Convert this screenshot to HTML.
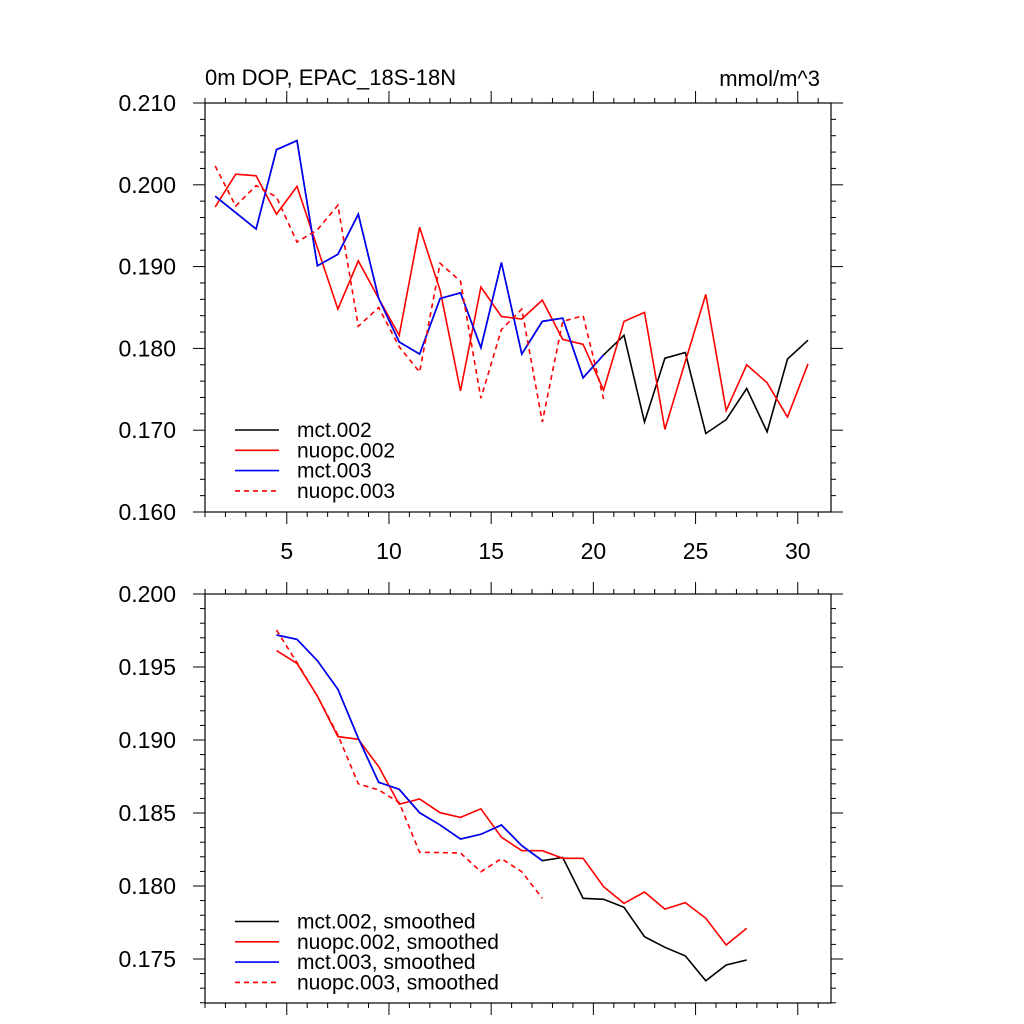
<!DOCTYPE html>
<html><head><meta charset="utf-8"><style>
html,body{margin:0;padding:0;background:#fff;}
svg{display:block;font-family:"Liberation Sans",Arial,sans-serif;}
</style></head><body>
<svg id="chart" width="1024" height="1024" viewBox="0 0 1024 1024"></svg>
<script>
// ---- data ----
const xStart = 1.5;
const mct002 = [0.1986,0.1966,0.1946,0.2043,0.2054,0.1901,0.1915,0.1964,0.1861,0.1808,0.1793,0.1861,0.1868,0.1801,0.1905,0.1793,0.1833,0.1837,0.1764,0.1792,0.1816,0.1710,0.1788,0.1795,0.1696,0.1713,0.1751,0.1698,0.1787,0.1810];
const nuopc002 = [0.1973,0.2013,0.2011,0.1964,0.1998,0.1923,0.1848,0.1907,0.1861,0.1816,0.1948,0.1871,0.1748,0.1875,0.1839,0.1836,0.1859,0.1811,0.1805,0.1749,0.1833,0.1844,0.1701,0.1784,0.1866,0.1724,0.1780,0.1758,0.1716,0.1781];
const mct003 = [0.1986,0.1966,0.1946,0.2043,0.2054,0.1901,0.1915,0.1964,0.1861,0.1808,0.1793,0.1861,0.1868,0.1801,0.1905,0.1793,0.1833,0.1837,0.1764,0.1792];
const nuopc003 = [0.2023,0.1974,0.1999,0.1985,0.1930,0.1945,0.1975,0.1827,0.1850,0.1802,0.1771,0.1904,0.1882,0.1739,0.1823,0.1848,0.1710,0.1833,0.1840,0.1738];
const smStart = 4.5;
const mct002s = [0.19719,0.19690,0.19543,0.19347,0.19012,0.18710,0.18662,0.18502,0.18418,0.18322,0.18354,0.18418,0.18276,0.18173,0.18195,0.17916,0.17909,0.17854,0.17653,0.17580,0.17521,0.17351,0.17459,0.17493];
const nuopc002s = [0.19612,0.19525,0.19301,0.19023,0.19005,0.18817,0.18560,0.18596,0.18502,0.18470,0.18529,0.18334,0.18242,0.18242,0.18190,0.18190,0.17995,0.17881,0.17959,0.17842,0.17886,0.17779,0.17596,0.17710];
const mct003s = [0.19719,0.19690,0.19543,0.19347,0.19012,0.18710,0.18662,0.18502,0.18418,0.18322,0.18354,0.18418,0.18276,0.18173];
const nuopc003s = [0.19753,0.19530,0.19300,0.19034,0.18699,0.18658,0.18571,0.18231,0.18229,0.18226,0.18098,0.18187,0.18098,0.17916];
const xTicks = [5,10,15,20,25,30];
const yTicksTop = ["0.160","0.170","0.180","0.190","0.200","0.210"];
const yTicksBot = ["0.175","0.180","0.185","0.190","0.195","0.200"];
const legendTop = ["mct.002","nuopc.002","mct.003","nuopc.003"];
const legendBot = ["mct.002, smoothed","nuopc.002, smoothed","mct.003, smoothed","nuopc.003, smoothed"];

const NS="http://www.w3.org/2000/svg";
const svg=document.getElementById('chart');
function mk(tag,attrs,parent){const e=document.createElementNS(NS,tag);for(const k in attrs)e.setAttribute(k,attrs[k]);(parent||svg).appendChild(e);return e;}

const L=205,R=831;
const xs=x=>L+(x-1)*20.44;
const pTop={t:103,b:512,y0:0.160,y1:0.210};
const pBot={t:594,b:1003,y0:0.200-409/73*0.005,y1:0.200};
function ys(p,v){return p.b-(v-p.y0)/(p.y1-p.y0)*(p.b-p.t);}

function axes(p,name,yLabels,ymin,ymaj,showXLabels){
  const g=mk('g',{});
  
  
  mk('rect',{x:L,y:p.t,width:R-L,height:p.b-p.t,fill:'none',stroke:'#000','stroke-width':1.2},g);
  for(let x=1;x<=31;x++){
    const X=xs(x);const maj=x%5===0;const len=maj?12:5;
    mk('line',{x1:X,x2:X,y1:p.b,y2:p.b+len,stroke:'#000','stroke-width':1},g);
    mk('line',{x1:X,x2:X,y1:p.t,y2:p.t-len,stroke:'#000','stroke-width':1},g);
  }
  const start=Math.ceil(p.y0/ymin-1e-6);
  for(let i=start;i*ymin<=p.y1+1e-9;i++){
    const v=i*ymin;const Y=ys(p,v);
    const maj=Math.abs(v/ymaj-Math.round(v/ymaj))<1e-6;const len=maj?12:5;
    mk('line',{x1:L,x2:L-len,y1:Y,y2:Y,stroke:'#000','stroke-width':1},g);
    mk('line',{x1:R,x2:R+len,y1:Y,y2:Y,stroke:'#000','stroke-width':1},g);
  }
  yLabels.forEach(s=>{
    const t=mk('text',{x:176,y:ys(p,parseFloat(s))+8,'text-anchor':'end','font-size':23},g);
    t.textContent=s;
    
    
  });
  if(showXLabels){xTicks.forEach(x=>{
    const t=mk('text',{x:xs(x),y:p.b+47,'text-anchor':'middle','font-size':23},g);
    t.textContent=String(x);
    
    
  });}
}
axes(pTop,'top-plot',yTicksTop,0.002,0.010,true);
axes(pBot,'bottom-plot',yTicksBot,0.001,0.005,false);

function line(p,arr,x0,color,dash,name){
  const pts=arr.map((v,i)=>xs(x0+i).toFixed(1)+','+ys(p,v).toFixed(1)).join(' ');
  const el=mk('polyline',{points:pts,fill:'none',stroke:color,'stroke-width':1.6,'stroke-dasharray':dash||'none'});
  
  
}
line(pTop,mct002,xStart,'#000','', 'series-mct002');
line(pTop,nuopc002,xStart,'#f00','', 'series-nuopc002');
line(pTop,mct003,xStart,'#00f','', 'series-mct003');
line(pTop,nuopc003,xStart,'#f00','5,4', 'series-nuopc003');
line(pBot,mct002s,smStart,'#000','', 'series-mct002-smoothed');
line(pBot,nuopc002s,smStart,'#f00','', 'series-nuopc002-smoothed');
line(pBot,mct003s,smStart,'#00f','', 'series-mct003-smoothed');
line(pBot,nuopc003s,smStart,'#f00','5,4', 'series-nuopc003-smoothed');

const colors=['#000','#f00','#00f','#f00'];const dashes=['none','none','none','5,4'];
function legend(labels,y0,name){
  labels.forEach((s,i)=>{
    const y=y0+i*20.3;
    const g=mk('g',{});
    
    
    mk('line',{x1:235,x2:279,y1:y,y2:y,stroke:colors[i],'stroke-width':1.6,'stroke-dasharray':dashes[i]},g);
    const t=mk('text',{x:297,y:y+7,'font-size':21},g);t.textContent=s;
  });
}
legend(legendTop,430,'legend-top');
legend(legendBot,921.5,'legend-bottom');

const t1=mk('text',{x:205,y:85,'font-size':22});t1.textContent='0m DOP, EPAC_18S-18N';


const t2=mk('text',{x:820,y:86,'font-size':22,'text-anchor':'end'});t2.textContent='mmol/m^3';


</script>
</body></html>
